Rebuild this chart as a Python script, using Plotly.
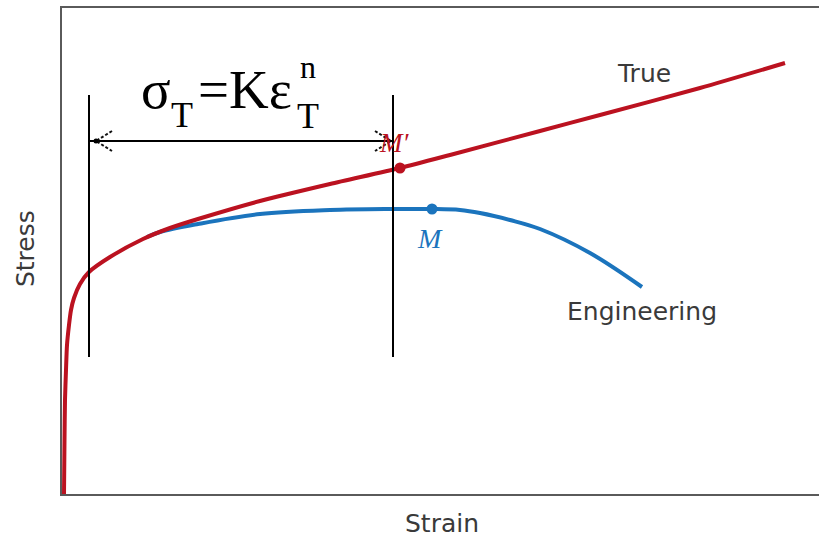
import plotly.graph_objects as go

# True stress-strain curve (arbitrary units)
strain_true = [0.002, 0.0025, 0.003, 0.004, 0.005, 0.007, 0.009, 0.012, 0.018, 0.027,
               0.048, 0.081, 0.108, 0.136, 0.198, 0.268, 0.338, 0.388, 0.478, 0.538,
               0.638, 0.723]
stress_true = [0.00, 0.54, 0.94, 1.24, 1.49, 1.69, 1.84, 1.96, 2.10, 2.22,
               2.37, 2.55, 2.66, 2.75, 2.93, 3.10, 3.26, 3.39, 3.63, 3.79,
               4.06, 4.31]

# Engineering curve, from where it leaves the true curve
strain_eng = [0.085, 0.098, 0.136, 0.198, 0.268, 0.331, 0.370, 0.398, 0.418, 0.448,
              0.478, 0.528, 0.580]
stress_eng = [2.57, 2.62, 2.70, 2.80, 2.84, 2.85, 2.85, 2.84, 2.81, 2.74,
              2.65, 2.41, 2.07]

# Ultimate points
point_M = (0.370, 2.85)
point_M_prime = (0.338, 3.26)

# Range of validity of the power law
fit_start, fit_end = 0.027, 0.331
bracket_low, bracket_high = 1.37, 3.99
arrow_level = 3.53

RED = "#bb1220"
BLUE = "#1b74bd"
TEXT = "#3a3a3a"

fig = go.Figure()

fig.add_trace(go.Scatter(x=strain_eng, y=stress_eng, mode="lines",
                         line=dict(color=BLUE, width=4, shape="spline", smoothing=1.0),
                         hoverinfo="skip"))
fig.add_trace(go.Scatter(x=strain_true, y=stress_true, mode="lines",
                         line=dict(color=RED, width=4, shape="spline", smoothing=0.7),
                         hoverinfo="skip"))

# Bracket lines
for xv in (fit_start, fit_end):
    fig.add_trace(go.Scatter(x=[xv, xv], y=[bracket_low, bracket_high], mode="lines",
                             line=dict(color="black", width=2), hoverinfo="skip"))
fig.add_trace(go.Scatter(x=[fit_start, fit_end], y=[arrow_level, arrow_level], mode="lines",
                         line=dict(color="black", width=2), hoverinfo="skip"))

# Open arrowheads at both ends
head_dx, head_dy = 0.016, 0.10
left_tip = fit_start + 0.007
right_tip = fit_end - 0.002
for tip, sgn in ((left_tip, 1), (right_tip, -1)):
    fig.add_trace(go.Scatter(
        x=[tip + sgn * head_dx, tip, tip + sgn * head_dx],
        y=[arrow_level + head_dy, arrow_level, arrow_level - head_dy],
        mode="lines", line=dict(color="#111111", width=2, dash="3px,2px"), hoverinfo="skip"))
fig.add_trace(go.Scatter(x=[left_tip], y=[arrow_level], mode="markers",
                         marker=dict(color="black", size=5), hoverinfo="skip"))

fig.add_trace(go.Scatter(x=[point_M_prime[0]], y=[point_M_prime[1]], mode="markers",
                         marker=dict(color=RED, size=11), hoverinfo="skip"))
fig.add_trace(go.Scatter(x=[point_M[0]], y=[point_M[1]], mode="markers",
                         marker=dict(color=BLUE, size=11), hoverinfo="skip"))

serif = "Liberation Serif"
sans = "DejaVu Sans"

def label(text, x, y, size, color, family, **kw):
    fig.add_annotation(text=text, x=x, y=y, showarrow=False, xanchor="center",
                       yanchor="middle", font=dict(size=size, color=color, family=family), **kw)

# Power-law formula
label("σ", 0.094, 4.05, 55, "black", serif)
label("T", 0.120, 3.79, 36, "black", serif)
label("=Kε", 0.183, 4.05, 55, "black", serif)
label("T", 0.246, 3.78, 36, "black", serif)
label("n", 0.246, 4.275, 32, "black", serif)

label("True", 0.582, 4.206, 25, TEXT, sans)
label("Engineering", 0.580, 1.83, 25, TEXT, sans)
label("<i>M</i>", 0.368, 2.555, 28, BLUE, serif)
label("<i>M′</i>", 0.332, 3.51, 27, RED, serif)

label("Strain", 0.502, -0.0617, 25, TEXT, sans, xref="paper", yref="paper")
label("Stress", -0.0489, 0.506, 25, TEXT, sans, xref="paper", yref="paper", textangle=-90)

fig.update_xaxes(range=[0, 0.757], showgrid=False, zeroline=False, showticklabels=False,
                 ticks="", showline=True, linecolor="#5a5a5a", linewidth=2, mirror=True)
fig.update_yaxes(range=[0, 4.86], showgrid=False, zeroline=False, showticklabels=False,
                 ticks="", showline=True, linecolor="#5a5a5a", linewidth=2, mirror=False)

fig.update_layout(width=819, height=539, showlegend=False,
                  margin=dict(l=62, r=0, t=8, b=45),
                  plot_bgcolor="white", paper_bgcolor="white")

fig.write_html("out.html")
